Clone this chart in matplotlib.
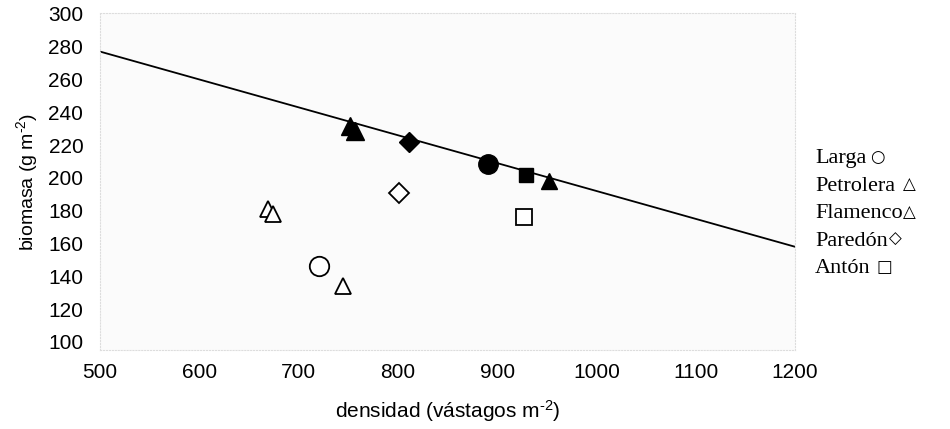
import numpy as np
import matplotlib.pyplot as plt

# filled symbols (on the regression line)
fill_x = [752, 757, 811, 891, 929, 952]
fill_y = [231.5, 228.5, 222, 208.5, 202, 198]
fill_m = ['^', '^', 'D', 'o', 's', '^']
fill_s = [13, 13, 10, 14, 10, 12]

# open symbols
open_x = [669, 674, 721, 745, 801, 927]
open_y = [181, 178, 146, 134, 190.5, 176]
open_m = ['^', '^', 'o', '^', 'D', 's']
open_s = [12, 12, 14, 11, 10, 12]

line_x = [500, 1200]
line_y = [277, 158]

sites = ['Larga', 'Petrolera', 'Flamenco', 'Paredón', 'Antón']
site_sym = ['○', '△', '△', '◇', '□']
site_gap = [4, 8, 0, 1, 6]

plt.rcParams['font.family'] = ['Liberation Sans', 'DejaVu Sans']
plt.rcParams['mathtext.fontset'] = 'custom'
plt.rcParams['mathtext.rm'] = 'Liberation Sans'
plt.rcParams['mathtext.it'] = 'Liberation Sans'

fig = plt.figure(figsize=(9.5, 4.29), dpi=100)
ax = fig.add_axes([0.1053, 0.184, 0.7315, 0.786])
ax.set_facecolor('#fbfbfb')

ax.plot(line_x, line_y, color='black', lw=1.3, zorder=2)

for x, y, m, s in zip(fill_x, fill_y, fill_m, fill_s):
    ax.plot(x, y, marker=m, ms=s, color='black', ls='none', zorder=3)
for x, y, m, s in zip(open_x, open_y, open_m, open_s):
    ax.plot(x, y, marker=m, ms=s, mfc='white', mec='black', mew=1.3,
            ls='none', zorder=3)

ax.set_xlim(500, 1200)
ax.set_ylim(95, 300.6)
ax.set_xticks(range(500, 1201, 100))
ax.set_yticks(range(100, 301, 20))
ax.tick_params(length=0, labelsize=15)
ax.tick_params(axis='x', pad=9)
ax.tick_params(axis='y', pad=12)
for sp in ax.spines.values():
    sp.set_color('#dddddd')
    sp.set_linestyle(':')
    sp.set_linewidth(0.8)

ax.set_xlabel('densidad (vástagos m$^{\u20102}$)', fontsize=15, labelpad=12)
ax.set_ylabel('biomasa (g m$^{\u20102}$)', fontsize=14, labelpad=6)

fig.canvas.draw()
r = fig.canvas.get_renderer()
for i, (name, sym) in enumerate(zip(sites, site_sym)):
    yy = 0.63 - i * 0.064
    t = fig.text(0.858, yy, name, fontsize=16, family='Liberation Serif',
                 va='center', ha='left')
    bb = t.get_window_extent(renderer=r)
    x1 = (bb.x1 + site_gap[i]) / fig.bbox.width
    fig.text(x1, yy + 0.004, sym, fontsize=12,
             family='DejaVu Sans', va='center', ha='left',
             fontweight='bold' if name == 'Flamenco' else 'normal')

fig.savefig('out.png', dpi=100)
